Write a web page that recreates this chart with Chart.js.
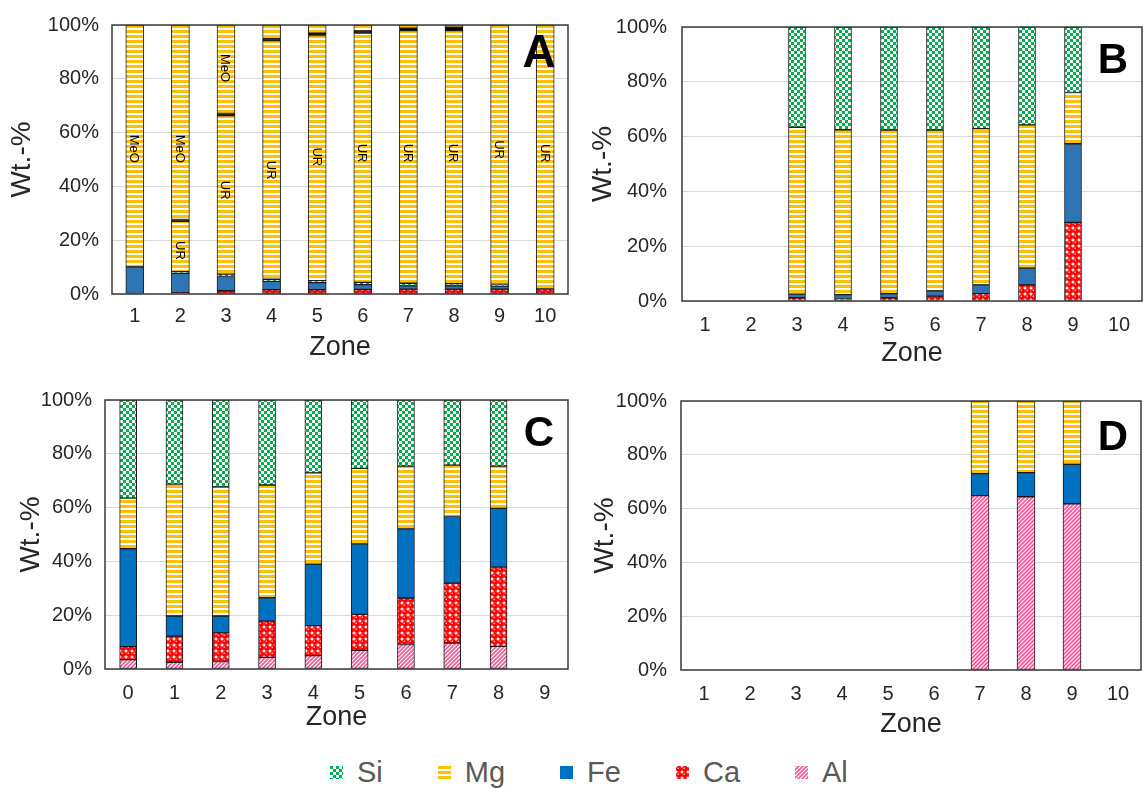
<!DOCTYPE html>
<html>
<head>
<meta charset="utf-8">
<script src="https://cdn.jsdelivr.net/npm/chart.js@4.4.1/dist/chart.umd.min.js"></script>
<style>
  body { margin: 0; background: #fff; font-family: "Liberation Sans", Arial, sans-serif; }
  #wrap { position: relative; width: 1146px; height: 788px; overflow: hidden; }
  #wrap canvas.panel { position: absolute; }
  #legend { position: absolute; left: 330px; top: 756px; display: flex; align-items: center; gap: 55px; color: #595959; font-size: 29px; }
  #legend span { display: flex; align-items: center; }
  #legend canvas { margin-right: 14px; }
</style>
</head>
<body>
<div id="wrap">
  <canvas class="panel" id="chartA" width="580" height="370" style="left:0;top:0"></canvas>
  <canvas class="panel" id="chartB" width="571" height="375" style="left:575px;top:0"></canvas>
  <canvas class="panel" id="chartC" width="580" height="370" style="left:0;top:375px"></canvas>
  <canvas class="panel" id="chartD" width="571" height="370" style="left:575px;top:375px"></canvas>
  <div id="legend"></div>
</div>
<script>
// categories
const zones1to10 = ['1', '2', '3', '4', '5', '6', '7', '8', '9', '10'];
const zones0to9 = ['0', '1', '2', '3', '4', '5', '6', '7', '8', '9'];
const yTicks = [0, 20, 40, 60, 80, 100];
const legendNames = ['Si', 'Mg', 'Fe', 'Ca', 'Al'];

// panel A (UR below the black line, MeO above it)
const aCa   = [null, 0.5, 1.2, 1.6, 1.6, 1.7, 1.8, 1.8, 1.8, 1.9];
const aFe   = [10.1, 7.2, 5.3, 3.1, 2.6, 1.8, 1.2, 1.2, 1.1, null];
const aSi   = [null, 0.6, 0.9, 0.8, 0.8, 0.8, 1.0, 0.8, 0.8, null];
const aMgUR = [null, 18.7, 58.9, 88.7, 91.1, 92.7, 93.9, 94.1, 96.3, 98.1];
const aSep  = [null, 0.7, 0.8, 0.7, 0.9, 0.8, 0.9, 1.3, null, null];
const aMgMeO = [89.9, 72.3, 32.9, 5.1, 3.0, 2.2, 1.2, 0.8, null, null];
const noteZone = ['1', '2', '2', '3', '3', '4', '5', '6', '7', '8', '9', '10'];
const noteText = ['MeO', 'MeO', 'UR', 'MeO', 'UR', 'UR', 'UR', 'UR', 'UR', 'UR', 'UR', 'UR'];
const noteAt   = [54, 54, 16.2, 84, 38.6, 46, 51, 52.4, 52.4, 52.4, 53.7, 52.3];

// panel B
const bCa = [null, null, 1.2, 0.9, 1.2, 1.8, 2.7, 5.9, 28.7, null];
const bFe = [null, null, 1.3, 1.4, 1.5, 1.9, 3.2, 6.1, 28.7, null];
const bMg = [null, null, 60.9, 60.2, 59.7, 58.7, 57.0, 52.3, 18.7, null];
const bSi = [null, null, 36.6, 37.5, 37.6, 37.6, 37.1, 35.7, 23.9, null];

// panel C
const cAl = [3.5, 2.5, 2.8, 4.3, 5.0, 6.9, 9.1, 9.6, 8.4, null];
const cCa = [4.8, 9.7, 10.6, 13.5, 11.1, 13.4, 17.3, 22.3, 29.5, null];
const cFe = [36.4, 7.5, 6.3, 8.7, 22.9, 26.2, 25.7, 24.8, 21.8, null];
const cMg = [18.8, 49.0, 48.0, 41.9, 33.9, 28.1, 23.3, 19.1, 15.7, null];
const cSi = [36.5, 31.3, 32.3, 31.6, 27.1, 25.4, 24.6, 24.2, 24.6, null];

// panel D
const dAl = [null, null, null, null, null, null, 64.8, 64.4, 61.8, null];
const dFe = [null, null, null, null, null, null, 8.2, 9.0, 14.7, null];
const dMg = [null, null, null, null, null, null, 27.0, 26.6, 23.5, null];

const FONT = '"Liberation Sans", Arial, sans-serif';
const INK = '#262626';

function makePattern(kind, color) {
  const c = document.createElement('canvas');
  const g = c.getContext('2d');
  if (kind === 'check') {
    c.width = c.height = 6; g.fillStyle = '#fff'; g.fillRect(0, 0, 6, 6);
    g.fillStyle = color; g.fillRect(0, 0, 3, 3); g.fillRect(3, 3, 3, 3);
  }
  if (kind === 'hstripe') {
    c.width = 4; c.height = 5; g.fillStyle = '#fff'; g.fillRect(0, 0, 4, 5);
    g.fillStyle = color; g.fillRect(0, 0, 4, 3);
  }
  if (kind === 'dots') {
    c.width = c.height = 6; g.fillStyle = '#fff'; g.fillRect(0, 0, 6, 6);
    g.fillStyle = color; g.beginPath(); g.arc(3, 3, 3.0, 0, Math.PI * 2); g.fill();
    g.fillStyle = '#fff'; g.beginPath(); g.arc(2.2, 2.2, 0.7, 0, Math.PI * 2); g.fill();
  }
  if (kind === 'diag') {
    c.width = c.height = 4; g.fillStyle = '#fff'; g.fillRect(0, 0, 4, 4);
    g.strokeStyle = color; g.lineWidth = 1.7;
    g.beginPath();
    g.moveTo(-1, 5); g.lineTo(5, -1);
    g.moveTo(-1, 1); g.lineTo(1, -1);
    g.moveTo(3, 5); g.lineTo(5, 3);
    g.stroke();
  }
  return g.createPattern(c, 'repeat');
}

const fills = {
  Si: makePattern('check', '#00b050'),
  Mg: makePattern('hstripe', '#ffc000'),
  Fe: '#0070c0',
  FeLight: '#2e75b6',
  Ca: makePattern('dots', '#ff0000'),
  Al: makePattern('diag', '#f8579a')
};

function ds(label, data, fill, barW) {
  return { label, data, backgroundColor: fill, borderColor: '#1a1a1a', borderWidth: 1, borderSkipped: false, barThickness: barW };
}

const framePlugin = {
  id: 'frame',
  afterDraw(chart) {
    const { ctx, chartArea: a } = chart;
    ctx.save();
    ctx.strokeStyle = '#3a3a3a';
    ctx.lineWidth = 1.5;
    ctx.strokeRect(a.left, a.top, a.right - a.left, a.bottom - a.top);
    const o = chart.options.plugins.letter;
    ctx.fillStyle = '#000';
    ctx.font = `bold ${o.size}px ${FONT}`;
    ctx.textAlign = 'center';
    ctx.textBaseline = 'alphabetic';
    ctx.fillText(o.text, a.right - o.dx, a.top + o.dy);
    ctx.restore();
  }
};

const notePlugin = {
  id: 'notes',
  afterDatasetsDraw(chart) {
    const { ctx, scales: { x, y } } = chart;
    ctx.save();
    ctx.fillStyle = '#000';
    ctx.font = `13px ${FONT}`;
    ctx.textAlign = 'center';
    ctx.textBaseline = 'middle';
    noteText.forEach((t, i) => {
      ctx.save();
      ctx.translate(x.getPixelForValue(zones1to10.indexOf(noteZone[i])), y.getPixelForValue(noteAt[i]));
      ctx.rotate(Math.PI / 2);
      ctx.fillText(t, 0, 1);
      ctx.restore();
    });
    ctx.restore();
  }
};

function panel(id, labels, datasets, p, extra) {
  return new Chart(document.getElementById(id), {
    type: 'bar',
    data: { labels, datasets },
    options: {
      responsive: false,
      animation: false,
      layout: { padding: { left: 0, top: p.top, right: p.right, bottom: 0 } },
      plugins: { legend: { display: false }, tooltip: { enabled: false }, letter: p.letter },
      scales: {
        x: {
          stacked: true,
          grid: { display: false, drawTicks: false },
          border: { display: false },
          ticks: { font: { family: FONT, size: 20 }, color: INK, padding: p.xTickPad },
          title: { display: true, text: 'Zone', color: INK, font: { family: FONT, size: 27 }, padding: { top: 0, bottom: p.xTitlePad } },
          afterFit: s => { s.height = p.xH; }
        },
        y: {
          stacked: true,
          min: 0, max: 100,
          afterBuildTicks: s => { s.ticks = yTicks.map(v => ({ value: v })); },
          ticks: { font: { family: FONT, size: 20 }, color: INK, padding: p.yTickPad, callback: v => v + '%' },
          grid: { color: '#d9d9d9', drawTicks: false, lineWidth: 1 },
          border: { display: false },
          title: { display: true, text: 'Wt.-%', color: INK, font: { family: FONT, size: 28 }, padding: { top: p.yTitlePad, bottom: 0 } },
          afterFit: s => { s.width = p.yW; }
        }
      }
    },
    plugins: [framePlugin].concat(extra || [])
  });
}

panel('chartA', zones1to10, [
  ds('Ca', aCa, fills.Ca, 18),
  ds('Fe', aFe, fills.FeLight, 18),
  ds('Si', aSi, fills.Si, 18),
  ds('Mg UR', aMgUR, fills.Mg, 18),
  ds('UR/MeO', aSep, '#000', 18),
  ds('Mg MeO', aMgMeO, fills.Mg, 18)
], { top: 18, right: 12, yW: 112, xH: 76, yTickPad: 13, yTitlePad: 5, xTickPad: 10, xTitlePad: 6,
     letter: { text: 'A', size: 46, dx: 29, dy: 42 } }, [notePlugin]);

panel('chartB', zones1to10, [
  ds('Ca', bCa, fills.Ca, 17),
  ds('Fe', bFe, fills.FeLight, 17),
  ds('Mg', bMg, fills.Mg, 17),
  ds('Si', bSi, fills.Si, 17)
], { top: 21, right: 4, yW: 107, xH: 74, yTickPad: 15, yTitlePad: 11, xTickPad: 12, xTitlePad: 5,
     letter: { text: 'B', size: 42, dx: 29, dy: 46 } });

panel('chartC', zones0to9, [
  ds('Al', cAl, fills.Al, 17),
  ds('Ca', cCa, fills.Ca, 17),
  ds('Fe', cFe, fills.Fe, 17),
  ds('Mg', cMg, fills.Mg, 17),
  ds('Si', cSi, fills.Si, 17)
], { top: 12, right: 12, yW: 105, xH: 76, yTickPad: 13, yTitlePad: 14, xTickPad: 12, xTitlePad: 11,
     letter: { text: 'C', size: 42, dx: 29, dy: 46 } });

panel('chartD', zones1to10, [
  ds('Al', dAl, fills.Al, 18),
  ds('Fe', dFe, fills.Fe, 18),
  ds('Mg', dMg, fills.Mg, 18)
], { top: 9, right: 5, yW: 106, xH: 75, yTickPad: 14, yTitlePad: 13, xTickPad: 12, xTitlePad: 4,
     letter: { text: 'D', size: 42, dx: 28, dy: 49 } });

// legend, built from the same fills
const legend = document.getElementById('legend');
legendNames.forEach(name => {
  const item = document.createElement('span');
  const sw = document.createElement('canvas');
  sw.width = sw.height = 13;
  const g = sw.getContext('2d');
  g.fillStyle = fills[name];
  g.fillRect(0, 0, 13, 13);
  item.appendChild(sw);
  item.appendChild(document.createTextNode(name));
  legend.appendChild(item);
});
</script>
</body>
</html>
